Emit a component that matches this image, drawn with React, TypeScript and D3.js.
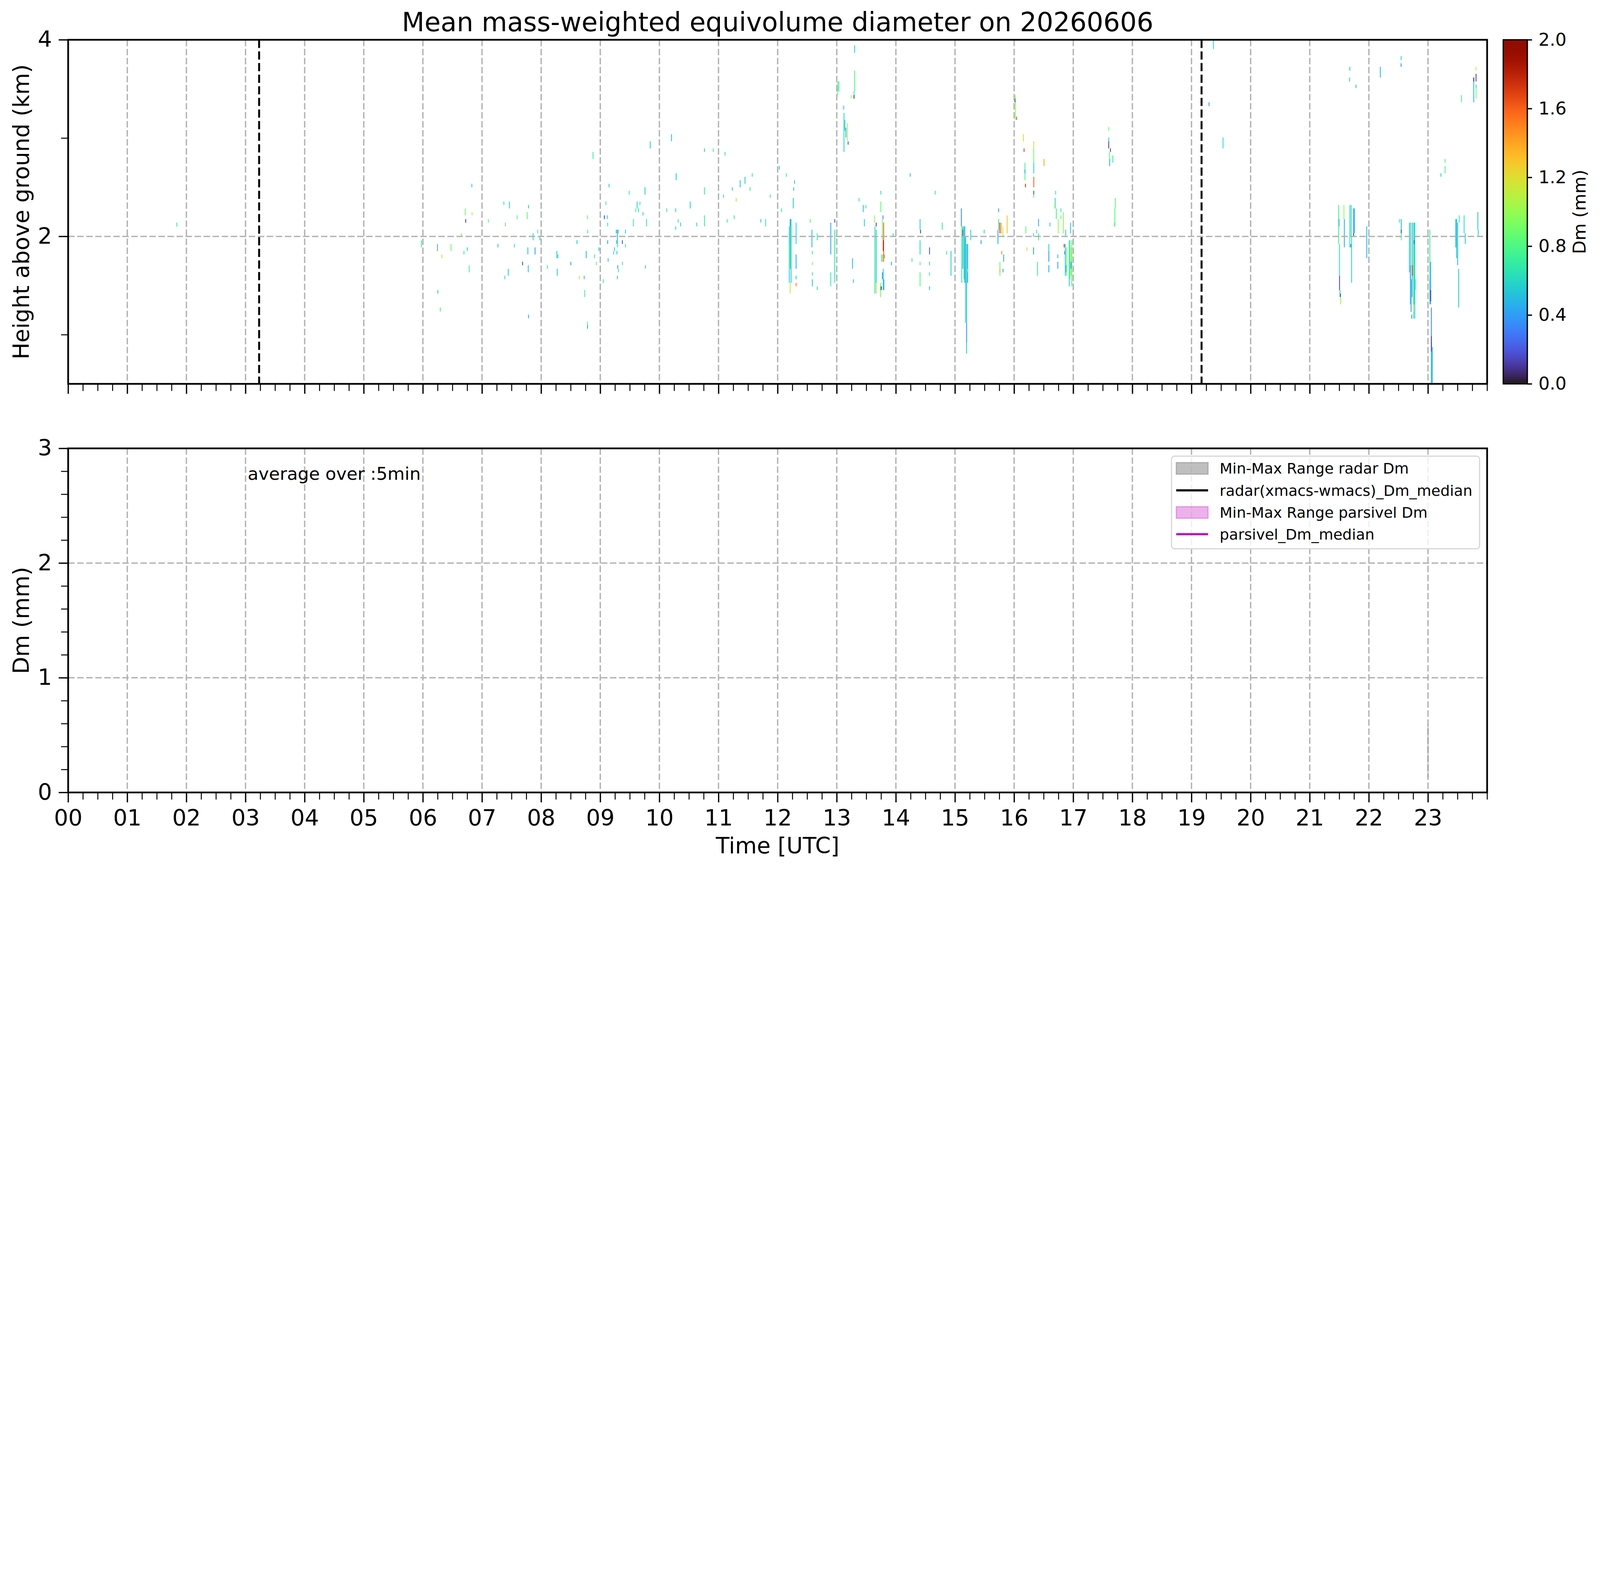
import React, { useRef, useEffect } from "react";
import * as d3 from "d3";

// radar echoes: [hour UTC, top km, bottom km, Dm mm]
const cellsMorning: number[][] = [
  [1.83, 2.14, 2.1, 0.7],
  [5.968, 1.961, 1.89, 0.7],
  [6.239, 1.923, 1.87, 0.55],
  [6.239, 1.87, 1.852, 1.6],
  [6.469, 1.923, 1.852, 0.85],
  [6.313, 1.816, 1.778, 1.2],
  [6.246, 1.454, 1.419, 0.55],
  [6.287, 1.276, 1.236, 0.75],
  [6.643, 2.031, 1.997, 0.9],
  [6.71, 2.285, 2.214, 0.9],
  [6.717, 2.176, 2.14, 0.1],
  [6.821, 2.535, 2.499, 0.6],
  [6.825, 2.247, 2.214, 1.05],
  [6.743, 1.888, 1.852, 0.55],
  [6.688, 1.852, 1.816, 0.7],
  [6.777, 1.707, 1.635, 0.75],
  [7.1, 2.176, 2.14, 0.85],
  [7.263, 1.923, 1.888, 0.55],
  [7.363, 2.354, 2.319, 0.7],
  [7.456, 2.354, 2.285, 0.6],
  [7.389, 2.14, 2.102, 0.8],
  [7.586, 2.214, 2.176, 0.8],
  [7.757, 2.247, 2.176, 0.85],
  [7.779, 2.319, 2.285, 0.55],
  [7.541, 1.923, 1.888, 0.7],
  [7.679, 1.742, 1.707, 0.12],
  [7.768, 1.888, 1.816, 0.55],
  [7.89, 1.888, 1.816, 0.4],
  [7.775, 1.707, 1.635, 0.55],
  [7.437, 1.671, 1.6, 0.55],
  [7.378, 1.6, 1.564, 0.7],
  [7.779, 1.204, 1.168, 0.45],
  [7.857, 2.031, 1.961, 0.6],
  [7.935, 2.068, 2.031, 0.75],
  [7.972, 1.997, 1.961, 0.6],
  [8.098, 1.707, 1.671, 0.7],
  [8.258, 1.852, 1.778, 0.55],
  [8.276, 1.816, 1.778, 0.6],
  [8.265, 1.671, 1.6, 0.55],
  [8.495, 1.742, 1.707, 0.4],
  [8.599, 1.961, 1.923, 0.55],
  [8.755, 1.852, 1.778, 0.5],
  [8.777, 2.214, 2.176, 0.85],
  [8.781, 2.068, 2.031, 0.75],
  [8.87, 2.859, 2.787, 0.75],
  [8.896, 1.816, 1.778, 0.75],
  [8.926, 1.742, 1.707, 0.85],
  [8.97, 1.888, 1.852, 0.6],
  [8.636, 1.6, 1.564, 1.2],
  [8.721, 1.6, 1.564, 0.55],
  [8.729, 1.454, 1.383, 0.75],
  [8.777, 1.133, 1.1, 0.85],
  [8.777, 1.1, 1.061, 0.4],
];

const cellsMidday: number[][] = [
  [9.044, 1.564, 1.528, 0.7],
  [9.063, 2.214, 2.176, 0.12],
  [9.111, 2.214, 2.176, 0.55],
  [9.089, 2.354, 2.319, 0.7],
  [9.141, 2.535, 2.499, 0.6],
  [9.118, 2.14, 2.102, 0.7],
  [9.263, 2.068, 2.031, 0.5],
  [9.282, 2.068, 1.923, 0.45],
  [9.297, 2.068, 2.031, 0.6],
  [9.419, 2.068, 2.031, 0.6],
  [9.118, 1.961, 1.923, 0.4],
  [9.267, 1.961, 1.923, 0.7],
  [9.367, 1.961, 1.923, 0.15],
  [9.419, 1.923, 1.888, 0.7],
  [9.286, 1.923, 1.888, 0.7],
  [9.234, 1.888, 1.852, 0.55],
  [9.219, 1.852, 1.816, 0.7],
  [9.275, 1.852, 1.816, 0.55],
  [9.126, 1.778, 1.742, 0.55],
  [9.367, 1.742, 1.707, 0.7],
  [9.289, 1.707, 1.671, 0.4],
  [9.3, 1.671, 1.635, 0.7],
  [9.282, 1.6, 1.564, 0.55],
  [9.482, 2.464, 2.426, 0.7],
  [9.553, 2.176, 2.102, 0.7],
  [9.616, 2.354, 2.285, 0.6],
  [9.664, 2.354, 2.319, 0.75],
  [9.594, 2.285, 2.247, 0.75],
  [9.638, 2.285, 2.247, 0.6],
  [9.716, 2.247, 2.214, 0.6],
  [9.749, 2.499, 2.426, 0.55],
  [9.838, 2.966, 2.895, 0.55],
  [9.775, 2.176, 2.102, 0.7],
  [9.757, 1.707, 1.671, 0.6],
  [10.198, 3.04, 2.968, 0.55],
  [10.276, 2.642, 2.571, 0.55],
  [10.117, 2.285, 2.247, 0.7],
  [10.269, 2.285, 2.247, 0.6],
  [10.31, 2.176, 2.14, 0.7],
  [10.351, 2.14, 2.102, 0.6],
  [10.269, 2.102, 2.068, 0.6],
  [10.514, 2.354, 2.285, 0.6],
  [10.625, 2.14, 2.102, 0.6],
  [10.755, 2.895, 2.859, 0.55],
  [10.755, 2.499, 2.426, 0.7],
  [10.755, 2.214, 2.102, 0.7],
  [10.903, 2.895, 2.859, 0.75],
  [11.103, 2.859, 2.823, 0.7],
  [11.077, 2.426, 2.392, 0.7],
  [11.226, 2.499, 2.464, 0.55],
  [11.359, 2.571, 2.499, 0.55],
  [11.441, 2.607, 2.535, 0.55],
  [11.563, 2.642, 2.607, 0.7],
  [11.526, 2.499, 2.464, 0.7],
  [11.292, 2.392, 2.354, 1.2],
  [11.259, 2.214, 2.176, 0.7],
  [11.14, 2.176, 2.14, 0.75],
  [11.708, 2.176, 2.14, 0.55],
  [11.79, 2.176, 2.102, 0.7],
  [11.868, 2.426, 2.392, 0.7],
  [12.02, 2.716, 2.68, 0.55],
  [12.142, 2.642, 2.607, 0.7],
  [12.279, 2.571, 2.535, 0.55],
  [12.265, 2.499, 2.464, 0.55],
  [12.257, 2.392, 2.285, 0.55],
  [12.06, 2.285, 2.247, 0.7],
  [12.205, 2.176, 2.102, 0.4],
  [12.19, 2.102, 1.923, 0.6],
  [12.205, 2.102, 1.671, 0.65],
  [12.22, 2.176, 1.528, 0.55],
  [12.19, 1.923, 1.671, 0.7],
  [12.19, 1.671, 1.528, 0.55],
  [12.205, 1.528, 1.419, 1.1],
  [12.305, 2.14, 1.923, 0.6],
  [12.305, 1.816, 1.671, 0.45],
  [12.305, 1.6, 1.564, 0.55],
  [12.305, 1.528, 1.492, 1.5],
  [12.543, 2.176, 2.14, 0.8],
  [12.573, 2.068, 1.888, 0.5],
  [12.58, 1.852, 1.816, 0.7],
  [12.58, 1.742, 1.707, 1.0],
  [12.58, 1.635, 1.6, 0.7],
  [12.58, 1.564, 1.492, 0.55],
  [12.662, 2.031, 1.961, 0.7],
  [12.662, 1.492, 1.454, 0.7],
  [12.892, 2.14, 1.816, 0.45],
  [12.959, 2.176, 2.14, 0.15],
  [12.959, 2.068, 1.528, 0.65],
  [12.892, 1.635, 1.492, 0.7],
];

const cellsAfternoon: number[][] = [
  [13.01, 3.576, 3.442, 0.85],
  [13.029, 3.576, 3.476, 0.7],
  [13.111, 3.33, 3.29, 0.55],
  [13.115, 3.256, 2.859, 0.6],
  [13.129, 3.185, 3.076, 0.6],
  [13.148, 3.107, 3.006, 0.4],
  [13.174, 3.151, 2.973, 1.0],
  [13.185, 2.966, 2.933, 0.15],
  [13.296, 3.944, 3.866, 0.6],
  [13.296, 3.687, 3.476, 0.8],
  [13.285, 3.476, 3.402, 0.7],
  [13.285, 3.437, 3.402, 0.1],
  [13.237, 3.437, 3.402, 1.0],
  [13.259, 1.778, 1.671, 0.5],
  [13.274, 1.564, 1.528, 0.55],
  [13.37, 2.392, 2.354, 0.7],
  [13.441, 2.319, 2.247, 0.55],
  [13.486, 2.319, 2.285, 0.7],
  [13.46, 2.176, 2.102, 0.6],
  [13.738, 2.464, 2.426, 0.7],
  [13.738, 2.354, 2.247, 0.85],
  [13.63, 2.214, 2.14, 1.0],
  [13.638, 2.102, 1.419, 0.65],
  [13.66, 2.14, 2.102, 0.12],
  [13.66, 2.068, 1.419, 0.55],
  [13.66, 1.528, 1.419, 1.1],
  [13.775, 2.214, 2.176, 0.35],
  [13.764, 2.176, 1.961, 0.9],
  [13.786, 2.14, 1.742, 1.6],
  [13.779, 1.961, 1.852, 1.8],
  [13.764, 1.816, 1.742, 0.8],
  [13.779, 1.671, 1.454, 0.6],
  [13.764, 1.635, 1.564, 0.4],
  [13.79, 1.564, 1.454, 0.45],
  [13.734, 1.528, 1.383, 0.9],
  [13.745, 1.492, 1.454, 0.05],
  [13.753, 1.816, 1.742, 0.85],
  [13.797, 1.816, 1.778, 1.5],
  [13.916, 1.742, 1.707, 0.4],
  [13.946, 2.031, 1.997, 0.55],
  [14.235, 2.642, 2.607, 0.55],
  [14.402, 2.176, 2.068, 0.6],
  [14.41, 2.068, 2.031, 0.12],
  [14.402, 1.961, 1.816, 0.6],
  [14.402, 1.742, 1.707, 0.8],
  [14.402, 1.635, 1.492, 0.8],
  [14.265, 1.778, 1.742, 0.7],
  [14.562, 1.888, 1.816, 0.2],
  [14.562, 1.742, 1.707, 0.6],
  [14.562, 1.492, 1.454, 0.55],
  [14.562, 1.635, 1.6, 0.7],
  [14.658, 2.464, 2.426, 0.7],
  [14.777, 2.14, 2.068, 0.7],
  [14.851, 1.852, 1.816, 0.7],
  [14.925, 1.852, 1.6, 0.55],
  [15.1, 2.285, 2.102, 0.35],
  [15.107, 2.102, 1.528, 0.7],
  [15.107, 2.102, 2.031, 0.85],
  [15.126, 2.102, 1.671, 0.55],
  [15.126, 2.068, 1.997, 0.12],
  [15.144, 2.102, 1.564, 0.65],
  [15.159, 2.102, 1.528, 0.45],
  [15.174, 1.997, 1.454, 0.6],
  [15.174, 1.454, 1.119, 0.65],
  [15.189, 1.923, 1.119, 0.55],
  [15.189, 1.119, 0.918, 0.35],
  [15.189, 0.918, 0.807, 0.55],
  [15.207, 1.923, 1.528, 0.4],
  [15.207, 1.671, 1.635, 0.85],
  [15.259, 2.068, 1.961, 0.6],
  [15.434, 1.961, 1.923, 0.4],
  [15.486, 2.068, 2.031, 0.6],
  [15.731, 2.285, 2.247, 0.4],
  [15.731, 2.176, 2.068, 0.7],
  [15.749, 2.14, 2.031, 1.65],
  [15.719, 2.068, 1.923, 0.45],
  [15.771, 2.14, 2.031, 1.5],
  [15.801, 2.102, 1.997, 1.1],
  [15.783, 1.852, 1.816, 1.5],
  [15.816, 1.816, 1.742, 0.45],
  [15.753, 1.742, 1.6, 0.9],
  [15.753, 1.671, 1.635, 1.4],
  [15.805, 1.671, 1.635, 0.4],
  [15.875, 2.214, 2.031, 1.3],
  [16.016, 3.437, 3.185, 1.0],
  [16.005, 3.402, 3.364, 0.15],
  [16.035, 3.218, 3.185, 1.65],
  [16.15, 3.04, 2.966, 1.2],
  [16.161, 2.895, 2.859, 1.7],
  [16.176, 2.75, 2.571, 0.8],
  [16.176, 2.68, 2.642, 0.4],
  [16.184, 2.535, 2.499, 1.75],
  [16.325, 2.966, 2.895, 1.2],
  [16.325, 2.895, 2.75, 0.9],
  [16.325, 2.75, 2.642, 0.6],
  [16.325, 2.607, 2.499, 1.6],
  [16.325, 2.464, 2.426, 0.15],
  [16.325, 2.426, 2.392, 0.85],
  [16.499, 2.787, 2.716, 1.4],
  [16.191, 2.102, 2.031, 0.85],
  [16.21, 1.888, 1.852, 1.2],
  [16.321, 1.888, 1.816, 0.4],
  [16.321, 2.031, 1.997, 0.6],
  [16.373, 2.068, 2.031, 0.7],
  [16.406, 2.176, 2.102, 0.45],
  [16.406, 2.031, 1.961, 0.7],
  [16.388, 1.742, 1.6, 0.75],
  [16.58, 1.923, 1.852, 0.6],
  [16.58, 1.852, 1.742, 0.4],
  [16.58, 1.707, 1.635, 0.45],
  [16.599, 2.14, 2.102, 0.6],
  [16.695, 2.464, 2.426, 0.7],
  [16.687, 2.392, 2.285, 0.6],
  [16.68, 2.319, 2.285, 1.0],
  [16.706, 2.285, 2.176, 0.75],
  [16.739, 2.176, 2.031, 1.0],
  [16.784, 2.285, 2.247, 0.7],
  [16.784, 2.214, 2.176, 0.85],
  [16.825, 2.247, 2.031, 0.95],
  [16.865, 2.068, 1.997, 0.6],
  [16.839, 1.923, 1.888, 1.75],
  [16.851, 1.852, 1.816, 0.12],
  [16.858, 1.923, 1.6, 0.55],
  [16.873, 1.707, 1.635, 0.4],
  [16.88, 1.888, 1.6, 0.85],
  [16.925, 1.961, 1.492, 0.6],
  [16.94, 1.961, 1.564, 0.85],
  [16.947, 2.14, 2.031, 0.55],
  [16.954, 1.888, 1.6, 1.1],
  [16.969, 1.961, 1.492, 0.8],
  [16.954, 1.742, 1.671, 0.4],
  [16.732, 1.816, 1.778, 0.55],
  [16.732, 1.742, 1.671, 0.45],
];

const cellsEvening: number[][] = [
  [17.593, 3.111, 3.076, 0.85],
  [17.593, 3.006, 2.966, 0.6],
  [17.593, 2.966, 2.895, 0.12],
  [17.622, 2.895, 2.859, 0.12],
  [17.608, 2.859, 2.787, 0.85],
  [17.608, 2.787, 2.716, 0.45],
  [17.663, 2.823, 2.75, 0.7],
  [17.704, 2.392, 2.285, 0.85],
  [17.697, 2.285, 2.102, 0.8],
  [17.689, 2.14, 2.102, 0.85],
  [19.289, 3.364, 3.326, 0.4],
  [19.363, 4.0, 3.906, 0.6],
  [19.526, 3.006, 2.895, 0.65],
  [21.482, 2.319, 1.923, 0.75],
  [21.489, 2.176, 2.102, 0.55],
  [21.497, 1.923, 1.6, 0.65],
  [21.497, 1.6, 1.454, 0.15],
  [21.505, 1.454, 1.383, 0.6],
  [21.512, 1.419, 1.383, 0.12],
  [21.515, 1.383, 1.309, 1.0],
  [21.571, 2.319, 2.176, 1.0],
  [21.578, 2.176, 1.888, 0.45],
  [21.671, 2.319, 1.888, 0.65],
  [21.686, 1.923, 1.888, 0.4],
  [21.693, 2.319, 1.997, 0.6],
  [21.701, 1.997, 1.528, 0.6],
  [21.734, 2.285, 1.997, 0.45],
  [21.749, 2.285, 2.031, 0.45],
  [21.734, 2.031, 1.997, 0.12],
  [21.957, 2.102, 1.778, 0.5],
  [21.671, 3.725, 3.687, 0.55],
  [21.667, 3.616, 3.576, 0.6],
  [21.775, 3.544, 3.509, 0.5],
  [22.187, 3.725, 3.616, 0.5],
  [22.538, 3.833, 3.795, 0.6],
  [22.538, 3.761, 3.725, 0.35],
  [22.51, 2.176, 2.14, 0.7],
  [22.54, 2.176, 2.031, 0.5],
  [22.54, 2.068, 2.031, 0.12],
  [22.54, 2.031, 1.961, 0.8],
  [22.679, 2.14, 1.635, 0.7],
  [22.695, 2.14, 1.309, 0.55],
  [22.695, 1.707, 1.564, 0.4],
  [22.707, 1.564, 1.231, 0.4],
  [22.718, 1.204, 1.164, 0.35],
  [22.725, 2.14, 1.383, 0.45],
  [22.725, 1.707, 1.6, 0.15],
  [22.737, 1.707, 1.6, 1.3],
  [22.749, 2.14, 1.164, 0.65],
  [22.749, 1.309, 1.231, 1.1],
  [22.76, 2.14, 1.309, 0.75],
  [22.76, 1.961, 1.923, 0.12],
  [22.77, 2.14, 1.164, 0.6],
  [22.776, 1.564, 1.454, 0.6],
  [23.024, 2.068, 1.564, 0.7],
  [23.024, 1.564, 1.309, 0.55],
  [23.038, 1.742, 1.309, 0.45],
  [23.038, 1.454, 1.34, 0.12],
  [23.05, 1.276, 0.5, 0.35],
  [23.05, 0.918, 0.5, 0.5],
  [23.05, 0.985, 0.829, 0.12],
  [23.066, 0.874, 0.5, 0.5],
  [23.212, 2.642, 2.607, 0.55],
  [23.282, 2.787, 2.75, 0.8],
  [23.282, 2.716, 2.642, 0.8],
  [23.463, 2.176, 1.888, 0.5],
  [23.477, 2.176, 1.778, 0.55],
  [23.495, 2.14, 1.707, 0.5],
  [23.512, 1.671, 1.276, 0.55],
  [23.521, 2.214, 2.14, 0.7],
  [23.558, 3.437, 3.364, 0.8],
  [23.604, 2.214, 2.031, 0.65],
  [23.623, 2.031, 1.923, 0.55],
  [23.767, 3.616, 3.364, 0.5],
  [23.767, 3.616, 3.576, 0.05],
  [23.806, 3.725, 3.687, 1.1],
  [23.806, 3.654, 3.576, 0.12],
  [23.806, 3.544, 3.509, 0.55],
  [23.806, 3.509, 3.402, 0.9],
  [23.836, 2.247, 2.068, 0.55],
  [23.843, 2.068, 1.997, 0.6],
];

// black dashed markers (hour UTC)
const markerHours = [3.23, 19.17];

// 5-min averaged comparison (only one radar point visible)
const radarTime = [23.0];
const radarDmMin = [0.13];
const radarDmMax = [0.59];

const hourTicks = d3.range(0, 24);
const hourTickLabels = [
  "00", "01", "02", "03", "04", "05", "06", "07", "08", "09", "10", "11",
  "12", "13", "14", "15", "16", "17", "18", "19", "20", "21", "22", "23",
];
const heightTicks = [2, 4];
const heightMinorTicks = [1, 3];
const dmTicks = [0, 1, 2, 3];
const dmMinorTicks = [0.2, 0.4, 0.6, 0.8, 1.2, 1.4, 1.6, 1.8, 2.2, 2.4, 2.6, 2.8];
const colorbarTicks = [0, 0.4, 0.8, 1.2, 1.6, 2.0];

const legendLabels = [
  "Min-Max Range radar Dm",
  "radar(xmacs-wmacs)_Dm_median",
  "Min-Max Range parsivel Dm",
  "parsivel_Dm_median",
];

const W = 7442;
const H = 4031;
const FONT = "DejaVu Sans, sans-serif";

const App: React.FC = () => {
  const svgRef = useRef<SVGSVGElement | null>(null);

  useEffect(() => {
    document.body.style.margin = "0";
    const svg = d3.select(svgRef.current);
    svg.selectAll("*").remove();

    const left = 317;
    const right = 6917;
    const top1 = 185, bot1 = 1785;
    const top2 = 2085, bot2 = 3685;

    const x = d3.scaleLinear().domain([0, 24]).range([left, right]);
    const yH = d3.scaleLinear().domain([0.5, 4]).range([bot1, top1]);
    const yDm = d3.scaleLinear().domain([0, 3]).range([bot2, top2]);
    const color = d3.scaleSequential(d3.interpolateTurbo).domain([0, 2]);

    svg.append("rect").attr("width", W).attr("height", H).attr("fill", "#fff");

    // title
    svg.append("text")
      .attr("x", (left + right) / 2)
      .attr("y", 145)
      .attr("text-anchor", "middle")
      .attr("font-family", FONT)
      .attr("font-size", 122)
      .text("Mean mass-weighted equivolume diameter on 20260606");

    const defs = svg.append("defs");
    defs.append("clipPath").attr("id", "clipTop")
      .append("rect").attr("x", left).attr("y", top1)
      .attr("width", right - left).attr("height", bot1 - top1);

    // ---------- top panel: echoes ----------
    const cells = [...cellsMorning, ...cellsMidday, ...cellsAfternoon, ...cellsEvening];
    const dt = 0.014;
    svg.append("g").attr("clip-path", "url(#clipTop)")
      .selectAll("rect")
      .data(cells)
      .enter()
      .append("rect")
      .attr("x", (d) => x(d[0]))
      .attr("y", (d) => yH(d[1]))
      .attr("width", x(dt) - x(0))
      .attr("height", (d) => yH(d[2]) - yH(d[1]))
      .attr("fill", (d) => color(d[3]));

    const gridStyle = (sel: any) =>
      sel.attr("stroke", "#b0b0b0").attr("stroke-width", 6).attr("stroke-dasharray", "30 12");

    const drawGrid = (y: d3.ScaleLinear<number, number>, yTicks: number[], t: number, b: number) => {
      const g = svg.append("g");
      g.selectAll(".vg").data(hourTicks.slice(1)).enter().append("line")
        .attr("x1", (d) => x(d)).attr("x2", (d) => x(d))
        .attr("y1", t).attr("y2", b).call(gridStyle);
      g.selectAll(".hg").data(yTicks).enter().append("line")
        .attr("x1", left).attr("x2", right)
        .attr("y1", (d) => y(d)).attr("y2", (d) => y(d)).call(gridStyle);
    };
    drawGrid(yH, [2], top1, bot1);
    drawGrid(yDm, [1, 2], top2, bot2);

    // day/night markers
    svg.append("g").selectAll("line").data(markerHours).enter().append("line")
      .attr("x1", (d) => x(d)).attr("x2", (d) => x(d))
      .attr("y1", top1).attr("y2", bot1)
      .attr("stroke", "#000").attr("stroke-width", 9).attr("stroke-dasharray", "38 16");

    // ---------- bottom panel ----------
    const radarPts = radarTime.map((t, i) => ({ t, lo: radarDmMin[i], hi: radarDmMax[i] }));
    const area = d3.area<any>().x((d) => x(d.t)).y0((d) => yDm(d.lo)).y1((d) => yDm(d.hi));
    svg.append("path").datum(radarPts)
      .attr("d", area)
      .attr("fill", "gray").attr("fill-opacity", 0.5)
      .attr("stroke", "gray").attr("stroke-opacity", 0.5).attr("stroke-width", 5);

    svg.append("text")
      .attr("x", 1152).attr("y", 2231)
      .attr("font-family", FONT).attr("font-size", 82)
      .text("average over :5min");

    // ---------- axes ----------
    const styleAxis = (g: any, fs: number, w: number) => {
      g.select(".domain").remove();
      g.attr("font-family", FONT).attr("font-size", fs);
      g.selectAll("line").attr("stroke", "#000").attr("stroke-width", w);
      g.selectAll("text").attr("fill", "#000");
    };

    const xAxes = (y0: number, labels: boolean) => {
      const major = svg.append("g").attr("transform", `translate(0,${y0})`)
        .call(d3.axisBottom(x).tickValues(hourTicks).tickSize(46).tickPadding(34)
          .tickFormat((d, i) => (labels ? hourTickLabels[i] : "")));
      styleAxis(major, 104, 6);
      const minor = svg.append("g").attr("transform", `translate(0,${y0})`)
        .call(d3.axisBottom(x).tickValues(d3.range(0, 24.01, 0.25).filter((v) => v % 1 !== 0 || v === 24))
          .tickSize(33).tickFormat(() => ""));
      styleAxis(minor, 10, 4.5);
    };
    xAxes(bot1, false);
    xAxes(bot2, true);

    const yAxes = (y: d3.ScaleLinear<number, number>, major: number[], minor: number[]) => {
      const g1 = svg.append("g").attr("transform", `translate(${left},0)`)
        .call(d3.axisLeft(y).tickValues(major).tickSize(44).tickPadding(31).tickFormat(d3.format("d")));
      styleAxis(g1, 104, 6);
      const g2 = svg.append("g").attr("transform", `translate(${left},0)`)
        .call(d3.axisLeft(y).tickValues(minor).tickSize(33).tickFormat(() => ""));
      styleAxis(g2, 10, 4.5);
    };
    yAxes(yH, heightTicks, heightMinorTicks);
    yAxes(yDm, dmTicks, dmMinorTicks);

    // spines
    [[top1, bot1], [top2, bot2]].forEach(([t, b]) => {
      svg.append("rect").attr("x", left).attr("y", t)
        .attr("width", right - left).attr("height", b - t)
        .attr("fill", "none").attr("stroke", "#000").attr("stroke-width", 8);
    });

    // axis labels
    svg.append("text")
      .attr("transform", `translate(135,${(top1 + bot1) / 2}) rotate(-90)`)
      .attr("text-anchor", "middle").attr("font-family", FONT).attr("font-size", 104)
      .text("Height above ground (km)");
    svg.append("text")
      .attr("transform", `translate(135,${(top2 + bot2) / 2}) rotate(-90)`)
      .attr("text-anchor", "middle").attr("font-family", FONT).attr("font-size", 104)
      .text("Dm (mm)");
    svg.append("text")
      .attr("x", (left + right) / 2).attr("y", 3968)
      .attr("text-anchor", "middle").attr("font-family", FONT).attr("font-size", 104)
      .text("Time [UTC]");

    // ---------- colorbar ----------
    const cbL = 6992, cbR = 7104;
    const grad = defs.append("linearGradient").attr("id", "turbo")
      .attr("x1", 0).attr("y1", 1).attr("x2", 0).attr("y2", 0);
    d3.range(0, 1.0001, 0.02).forEach((t) => {
      grad.append("stop").attr("offset", t).attr("stop-color", color(t * 2));
    });
    svg.append("rect").attr("x", cbL).attr("y", top1)
      .attr("width", cbR - cbL).attr("height", bot1 - top1)
      .attr("fill", "url(#turbo)").attr("stroke", "#000").attr("stroke-width", 6);
    const cbScale = d3.scaleLinear().domain([0, 2]).range([bot1, top1]);
    const cbAxis = svg.append("g").attr("transform", `translate(${cbR},0)`)
      .call(d3.axisRight(cbScale).tickValues(colorbarTicks).tickSize(22).tickPadding(30)
        .tickFormat(d3.format(".1f")));
    styleAxis(cbAxis, 82, 6);
    svg.append("text")
      .attr("transform", `translate(7375,${(top1 + bot1) / 2}) rotate(-90)`)
      .attr("text-anchor", "middle").attr("font-family", FONT).attr("font-size", 82)
      .text("Dm (mm)");

    // ---------- legend ----------
    const lg = svg.append("g");
    lg.append("rect").attr("x", 5449).attr("y", 2121)
      .attr("width", 6882 - 5449).attr("height", 2552 - 2121)
      .attr("rx", 14).attr("fill", "#fff").attr("fill-opacity", 0.8)
      .attr("stroke", "#d4d4d4").attr("stroke-width", 5);
    const rowY = [2178, 2280, 2383, 2484];
    const hx0 = 5471, hx1 = 5619;
    lg.append("rect").attr("x", hx0).attr("y", rowY[0] - 27).attr("width", hx1 - hx0).attr("height", 54)
      .attr("fill", "gray").attr("fill-opacity", 0.5)
      .attr("stroke", "gray").attr("stroke-opacity", 0.5).attr("stroke-width", 5);
    lg.append("line").attr("x1", hx0).attr("x2", hx1).attr("y1", rowY[1]).attr("y2", rowY[1])
      .attr("stroke", "#000").attr("stroke-width", 10);
    lg.append("rect").attr("x", hx0).attr("y", rowY[2] - 27).attr("width", hx1 - hx0).attr("height", 54)
      .attr("fill", "#bf00bf").attr("fill-opacity", 0.3)
      .attr("stroke", "#bf00bf").attr("stroke-opacity", 0.3).attr("stroke-width", 5);
    lg.append("line").attr("x1", hx0).attr("x2", hx1).attr("y1", rowY[3]).attr("y2", rowY[3])
      .attr("stroke", "#bf00bf").attr("stroke-width", 10);
    lg.selectAll(".lt").data(legendLabels).enter().append("text")
      .attr("x", 5673).attr("y", (_, i) => rowY[i] + 25)
      .attr("font-family", FONT).attr("font-size", 69)
      .text((d) => d);
  }, []);

  return (
    <svg
      ref={svgRef}
      viewBox={`0 0 ${W} ${H}`}
      style={{ display: "block", width: "100%", height: "auto" }}
    ></svg>
  );
};

export default App;
